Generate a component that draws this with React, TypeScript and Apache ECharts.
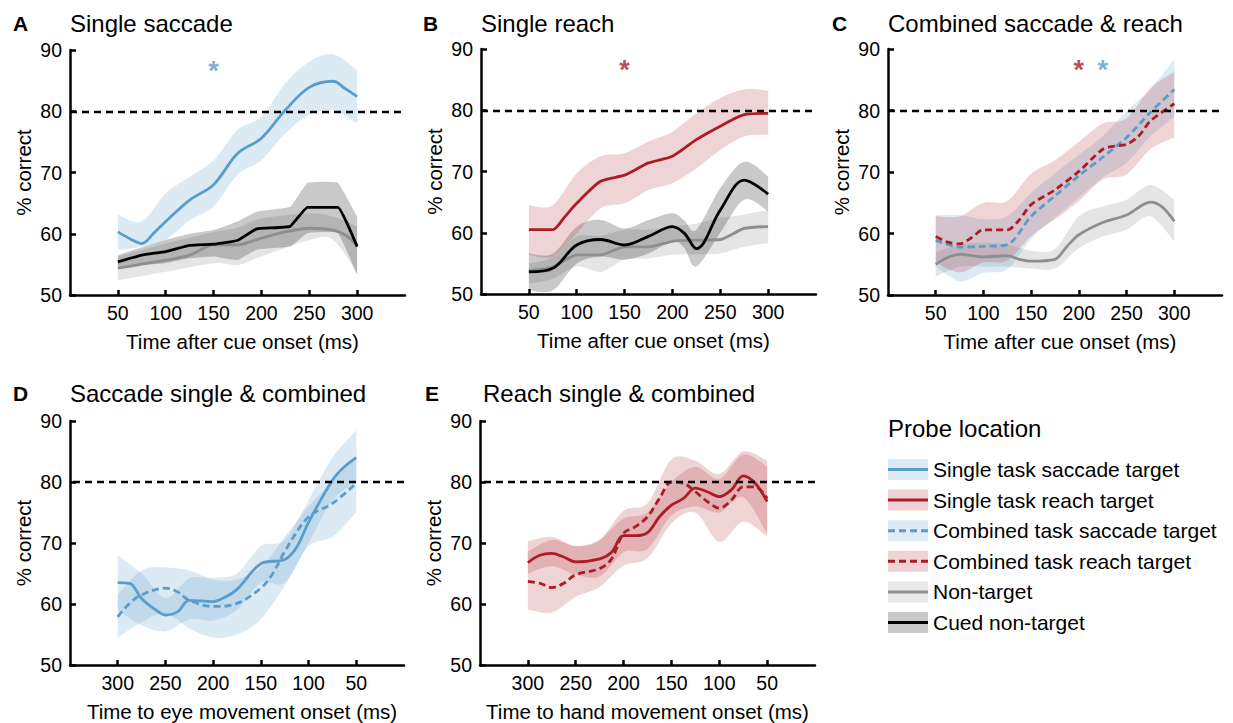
import React, { useEffect, useRef } from 'react';
import * as echarts from 'echarts';

const FONT = "'Liberation Sans', Arial, Helvetica, sans-serif";
const X_TICKS = [50, 100, 150, 200, 250, 300];

// ---------- Panel A: Single saccade ----------
const A_SACC_T = [50, 62.5, 75, 87.5, 100, 125, 150, 175, 200, 225, 250, 275, 287.5, 300];
const A_SACC = [60.3, 59.2, 58.4, 60.1, 62.0, 65.5, 68.0, 73.1, 75.6, 80.2, 83.9, 84.9, 83.7, 82.4];
const A_SACC_BT = [50, 75, 100, 125, 150, 175, 200, 225, 250, 275, 300];
const A_SACC_HI = [63.1, 62.0, 66.6, 69.3, 72.0, 77.0, 79.1, 84.6, 88.1, 89.3, 86.7];
const A_SACC_LO = [57.3, 57.9, 59.0, 62.2, 64.4, 69.6, 72.0, 76.4, 79.4, 80.2, 78.0];
const A_CUED_T = [50, 75, 100, 125, 150, 175, 195, 230, 248, 280, 300];
const A_CUED = [55.4, 56.5, 57.1, 58.1, 58.3, 58.9, 60.8, 61.2, 64.3, 64.3, 57.9];
const A_CUED_HI = [56.5, 57.8, 59.0, 60.0, 60.6, 62.0, 63.6, 64.4, 68.3, 68.3, 62.8];
const A_CUED_LO = [54.6, 54.9, 55.2, 56.0, 56.3, 55.7, 57.4, 57.9, 60.1, 60.1, 53.3];
const A_NON_T = [50, 100, 125, 150, 175, 200, 225, 250, 275, 287.5, 300];
const A_NON = [54.4, 55.7, 56.5, 58.2, 58.2, 59.3, 60.3, 60.9, 60.6, 59.8, 58.2];
const A_NON_BT = [50, 100, 150, 175, 200, 250, 275, 300];
const A_NON_HI = [56.3, 58.4, 60.3, 61.0, 62.5, 63.3, 62.8, 61.2];
const A_NON_LO = [52.4, 53.8, 55.2, 54.9, 56.3, 59.0, 59.0, 53.5];
const A_STARS = [[150, 87.5]];

// ---------- Panel B: Single reach ----------
const B_REACH_T = [50, 75, 87.5, 100, 125, 150, 175, 200, 225, 250, 275, 300];
const B_REACH = [60.5, 60.5, 62.6, 64.8, 68.4, 69.4, 71.4, 72.5, 75.2, 77.4, 79.3, 79.5];
const B_REACH_BT = [50, 75, 100, 125, 150, 175, 200, 225, 250, 275, 300];
const B_REACH_HI = [64.5, 64.5, 69.7, 72.5, 73.0, 74.9, 76.5, 79.5, 82.0, 83.4, 83.2];
const B_REACH_LO = [56.4, 56.1, 59.9, 64.0, 64.8, 67.0, 68.1, 70.5, 73.5, 75.7, 76.0];
const B_CUED_T = [50, 75, 100, 125, 150, 175, 200, 212.5, 225, 250, 275, 300];
const B_CUED = [53.6, 54.2, 58.0, 58.9, 58.0, 59.4, 61.0, 59.9, 57.4, 63.7, 68.6, 66.3];
const B_CUED_HI = [56.6, 56.6, 61.0, 62.1, 60.7, 62.1, 63.2, 62.0, 60.5, 67.3, 71.6, 69.2];
const B_CUED_LO = [50.6, 50.6, 55.0, 56.1, 55.6, 56.6, 58.6, 57.5, 54.5, 60.0, 65.4, 63.5];
const B_NON_T = [50, 75, 100, 125, 150, 175, 200, 225, 250, 275, 300];
const B_NON = [53.8, 54.4, 56.4, 56.4, 57.7, 57.7, 58.6, 58.8, 58.9, 60.7, 61.0];
const B_NON_HI = [55.0, 56.0, 59.4, 59.5, 60.5, 60.5, 61.0, 61.5, 62.4, 63.0, 63.7];
const B_NON_LO = [51.7, 52.5, 54.5, 53.6, 55.6, 55.8, 56.4, 56.5, 56.6, 57.7, 58.3];
const B_STARS = [[150, 87.5]];

// ---------- Panel C: Combined saccade & reach ----------
const C_REACH_T = [50, 62.5, 75, 87.5, 100, 125, 137.5, 150, 175, 200, 225, 237.5, 250, 262.5, 275, 300];
const C_REACH = [59.5, 58.6, 58.3, 59.3, 60.6, 60.6, 62.2, 64.7, 67.1, 70.1, 73.7, 74.2, 74.5, 75.8, 78.3, 81.1];
const C_BT = [50, 75, 100, 125, 150, 175, 200, 225, 250, 275, 300];
const C_REACH_HI = [62.8, 62.8, 65.0, 65.3, 69.7, 71.9, 74.9, 77.9, 78.7, 83.6, 86.3];
const C_REACH_LO = [55.3, 53.7, 55.3, 55.6, 59.6, 62.3, 65.3, 68.8, 69.6, 73.7, 75.6];
const C_SACC_T = [50, 75, 100, 125, 150, 175, 200, 225, 250, 275, 300];
const C_SACC = [58.9, 57.8, 57.9, 58.2, 62.8, 66.1, 69.4, 72.4, 75.6, 79.7, 83.4];
const C_SACC_HI = [63.0, 63.0, 62.3, 62.8, 66.6, 69.8, 72.8, 75.8, 79.9, 83.5, 88.3];
const C_SACC_LO = [54.7, 52.2, 53.6, 54.2, 59.1, 62.6, 65.8, 69.1, 71.5, 75.8, 79.0];
const C_NON_T = [50, 62.5, 75, 100, 125, 137.5, 150, 175, 187.5, 200, 225, 250, 275, 287.5, 300];
const C_NON = [55.0, 56.1, 56.6, 56.2, 56.4, 55.8, 55.5, 55.8, 57.9, 59.8, 61.8, 63.0, 65.1, 64.3, 62.0];
const C_NON_HI = [56.9, 58.2, 58.5, 58.2, 57.2, 57.5, 62.8, 64.4, 65.5, 67.9, 65.5];
const C_NON_LO = [53.0, 54.6, 54.6, 54.6, 54.3, 54.3, 57.6, 59.5, 60.6, 62.8, 58.7];
const C_STARS_REACH = [[200, 87.5]];
const C_STARS_SACC = [[225, 87.5]];

// ---------- Panel D: Saccade single & combined (time to eye movement onset) ----------
const D_SINGLE_T = [300, 287.5, 275, 262.5, 250, 237.5, 225, 200, 187.5, 175, 150, 125, 112.5, 100, 75, 62.5, 50];
const D_SINGLE = [63.5, 63.4, 60.9, 59.3, 58.2, 58.7, 60.6, 60.4, 61.1, 62.4, 66.6, 67.3, 69.3, 73.4, 80.3, 82.5, 84.0];
const D_COMB_T = [300, 287.5, 275, 250, 237.5, 225, 200, 175, 150, 137.5, 125, 100, 75, 50];
const D_COMB = [57.9, 60.1, 61.5, 62.6, 62.0, 60.6, 59.6, 60.1, 62.6, 65.0, 68.6, 74.3, 76.5, 79.8];
const D_BT = [300, 275, 250, 225, 200, 175, 150, 125, 100, 75, 50];
const D_SINGLE_HI = [68.0, 65.0, 61.0, 64.2, 64.3, 65.0, 69.5, 70.5, 77.0, 84.0, 88.5];
const D_SINGLE_LO = [59.0, 56.5, 55.5, 57.5, 57.3, 59.0, 63.5, 63.5, 70.0, 77.0, 80.0];
const D_COMB_HI = [61.5, 65.5, 66.0, 65.5, 64.0, 64.0, 66.0, 71.0, 76.0, 80.0, 84.5];
const D_COMB_LO = [54.5, 57.0, 58.5, 56.0, 54.5, 55.0, 57.5, 63.0, 69.5, 71.0, 75.0];

// ---------- Panel E: Reach single & combined (time to hand movement onset) ----------
const E_T = [300, 287.5, 275, 262.5, 250, 225, 212.5, 200, 187.5, 175, 162.5, 150, 137.5, 125, 112.5, 100, 87.5, 75, 62.5, 50];
const E_SINGLE = [66.8, 68.0, 68.3, 67.7, 66.9, 67.4, 68.5, 71.2, 71.2, 71.7, 74.3, 76.2, 77.3, 79.0, 78.4, 77.6, 78.7, 81.0, 79.8, 76.8];
const E_COMB = [63.7, 63.4, 62.7, 63.4, 64.8, 65.8, 67.4, 71.6, 72.7, 74.3, 77.3, 80.0, 79.8, 78.4, 76.8, 75.7, 77.0, 79.2, 79.2, 77.3];
const E_BT = [300, 275, 250, 225, 200, 175, 150, 125, 100, 75, 50];
const E_SINGLE_HI = [68.6, 70.5, 69.5, 70.5, 74.0, 75.0, 80.0, 82.5, 80.5, 84.5, 82.5];
const E_SINGLE_LO = [65.0, 66.2, 64.8, 64.5, 68.5, 69.0, 74.5, 76.0, 75.0, 77.5, 71.5];
const E_COMB_HI = [70.3, 71.0, 69.5, 70.5, 75.3, 76.5, 83.7, 83.5, 81.3, 85.0, 83.5];
const E_COMB_LO = [59.1, 58.6, 61.2, 62.8, 66.3, 67.5, 73.2, 75.0, 70.2, 73.5, 71.0];

const CHANCE_LINE = 80;

const LEGEND_TITLE = 'Probe location';
const LEGEND_LABELS = [
  'Single task saccade target',
  'Single task reach target',
  'Combined task saccade target',
  'Combined task reach target',
  'Non-target',
  'Cued non-target',
];

const PANEL_LETTERS = ['A', 'B', 'C', 'D', 'E'];
const PANEL_TITLES = ['Single saccade', 'Single reach', 'Combined saccade & reach', 'Saccade single & combined', 'Reach single & combined'];
const X_NAMES = ['Time after cue onset (ms)', 'Time after cue onset (ms)', 'Time after cue onset (ms)', 'Time to eye movement onset (ms)', 'Time to hand movement onset (ms)'];
const Y_NAME = '% correct';

// colours
const BLUE = '#5a9dc9';
const RED = '#ab1c25';
const GRAY = '#8e8e8e';
const BLACK = '#000000';
const BLUE_BAND = 'rgba(90,157,201,0.21)';
const RED_BAND = 'rgba(171,28,37,0.19)';
const GRAY_BAND = 'rgba(0,0,0,0.10)';
const CUED_BAND = 'rgba(0,0,0,0.21)';
const DASH = [7, 4];

const GRIDS = [
  { left: 70, top: 50, width: 335, height: 245 },
  { left: 481, top: 49, width: 335, height: 245 },
  { left: 888, top: 49, width: 334, height: 246 },
  { left: 70, top: 421, width: 334, height: 244 },
  { left: 480, top: 421, width: 335, height: 244 },
];
const NAME_SHIFT = [10, 10, 10, 10, 0];
const LETTER_POS = [[13, 23], [423, 23], [832, 23], [13, 393], [425, 393]];
const TITLE_POS = [[70, 23], [481, 23], [888, 23], [70, 393], [483, 393]];

function segs(pts: number[][], s: number) {
  let d = '';
  const n = pts.length;
  for (let i = 0; i < n - 1; i++) {
    const p0 = pts[Math.max(i - 1, 0)];
    const p1 = pts[i];
    const p2 = pts[i + 1];
    const p3 = pts[Math.min(i + 2, n - 1)];
    const c1x = p1[0] + (p2[0] - p0[0]) * s;
    const c1y = p1[1] + (p2[1] - p0[1]) * s;
    const c2x = p2[0] - (p3[0] - p1[0]) * s;
    const c2y = p2[1] - (p3[1] - p1[1]) * s;
    d += ` C${c1x},${c1y} ${c2x},${c2y} ${p2[0]},${p2[1]}`;
  }
  return d;
}

function band(grid: number, t: number[], lo: number[], hi: number[], color: string, s = 0.16) {
  const data = t.map((x, i) => [x, lo[i], hi[i]]);
  return {
    type: 'custom',
    xAxisIndex: grid,
    yAxisIndex: grid,
    data,
    encode: { x: 0, y: [1, 2] },
    z: 1,
    silent: true,
    renderItem: (params: any, api: any) => {
      if (params.dataIndex !== 0) return null;
      const up = data.map((d) => api.coord([d[0], d[2]]));
      const dn = data.map((d) => api.coord([d[0], d[1]])).reverse();
      const pathData = `M${up[0][0]},${up[0][1]}` + segs(up, s) + ` L${dn[0][0]},${dn[0][1]}` + segs(dn, s) + ' Z';
      return { type: 'path', shape: { pathData }, style: { fill: color, stroke: null } };
    },
  };
}

function line(grid: number, t: number[], v: number[], color: string, dashed: boolean, smooth: number | boolean, extra: any = {}) {
  return {
    type: 'line',
    xAxisIndex: grid,
    yAxisIndex: grid,
    data: t.map((x, i) => [x, v[i]]),
    symbol: 'none',
    smooth,
    silent: true,
    z: 3,
    lineStyle: { color, width: 2.8, type: dashed ? DASH : 'solid', cap: 'butt' },
    ...extra,
  };
}

function chanceLine() {
  return {
    markLine: {
      silent: true,
      symbol: 'none',
      label: { show: false },
      lineStyle: { color: '#000', width: 2.4, type: [7, 5] },
      data: [{ yAxis: CHANCE_LINE }],
    },
  };
}

function stars(grid: number, pts: number[][], color: string) {
  return {
    type: 'scatter',
    xAxisIndex: grid,
    yAxisIndex: grid,
    data: pts,
    symbol: 'circle',
    symbolSize: 0.1,
    itemStyle: { color: 'rgba(0,0,0,0)' },
    silent: true,
    z: 4,
    label: {
      show: true,
      position: 'inside',
      formatter: '*',
      color,
      fontSize: 27,
      fontWeight: 'bold',
      fontFamily: FONT,
      offset: [0, 6],
    },
  };
}

export default function App() {
  const ref = useRef<HTMLDivElement>(null);
  useEffect(() => {
    if (!ref.current) return;
    const chart = echarts.init(ref.current, undefined, { renderer: 'svg' });
    const textStyle = { color: '#000', fontFamily: FONT };

    const xAxis = GRIDS.map((_, i) => ({
      type: 'value',
      gridIndex: i,
      min: 0,
      max: 350,
      interval: 50,
      inverse: i >= 3,
      axisLine: { show: true, onZero: false, lineStyle: { color: '#000', width: 2.5 } },
      axisTick: { show: true, inside: true, length: 5, customValues: X_TICKS, lineStyle: { color: '#000', width: 2.5 } },
      axisLabel: { customValues: X_TICKS, ...textStyle, fontSize: 19.5, margin: 8 },
      splitLine: { show: false },
      name: X_NAMES[i],
      nameLocation: 'middle',
      nameGap: 36,
      nameTextStyle: { ...textStyle, fontSize: 20.5, padding: [0, 0, 0, NAME_SHIFT[i]] },
    }));
    const yAxis = GRIDS.map((_, i) => ({
      type: 'value',
      gridIndex: i,
      min: 50,
      max: 90,
      interval: 10,
      axisLine: { show: true, onZero: false, lineStyle: { color: '#000', width: 2.5 } },
      axisTick: { show: true, inside: true, length: 6, lineStyle: { color: '#000', width: 2.5 } },
      axisLabel: { ...textStyle, fontSize: 19.5, margin: 8 },
      splitLine: { show: false },
      name: Y_NAME,
      nameLocation: 'middle',
      nameGap: 36,
      nameRotate: 90,
      nameTextStyle: { ...textStyle, fontSize: 20.5 },
    }));

    const series: any[] = [
      // A
      band(0, A_NON_BT, A_NON_LO, A_NON_HI, GRAY_BAND),
      band(0, A_CUED_T, A_CUED_LO, A_CUED_HI, CUED_BAND, 0.05),
      band(0, A_SACC_BT, A_SACC_LO, A_SACC_HI, BLUE_BAND),
      line(0, A_NON_T, A_NON, GRAY, false, 0.3, chanceLine()),
      line(0, A_CUED_T, A_CUED, BLACK, false, 0.1),
      line(0, A_SACC_T, A_SACC, BLUE, false, 0.35),
      stars(0, A_STARS, BLUE),
      // B
      band(1, B_NON_T, B_NON_LO, B_NON_HI, GRAY_BAND),
      band(1, B_CUED_T, B_CUED_LO, B_CUED_HI, CUED_BAND),
      band(1, B_REACH_BT, B_REACH_LO, B_REACH_HI, RED_BAND),
      line(1, B_NON_T, B_NON, GRAY, false, 0.2, chanceLine()),
      line(1, B_CUED_T, B_CUED, BLACK, false, 0.35),
      line(1, B_REACH_T, B_REACH, RED, false, 0.25),
      stars(1, B_STARS, RED),
      // C
      band(2, C_BT, C_NON_LO, C_NON_HI, GRAY_BAND),
      band(2, C_BT, C_SACC_LO, C_SACC_HI, BLUE_BAND),
      band(2, C_BT, C_REACH_LO, C_REACH_HI, RED_BAND),
      line(2, C_NON_T, C_NON, GRAY, false, 0.3, chanceLine()),
      line(2, C_SACC_T, C_SACC, BLUE, true, 0.3),
      line(2, C_REACH_T, C_REACH, RED, true, 0.3),
      stars(2, C_STARS_REACH, RED),
      stars(2, C_STARS_SACC, BLUE),
      // D
      band(3, D_BT, D_COMB_LO, D_COMB_HI, BLUE_BAND),
      band(3, D_BT, D_SINGLE_LO, D_SINGLE_HI, BLUE_BAND),
      line(3, D_COMB_T, D_COMB, BLUE, true, 0.35, chanceLine()),
      line(3, D_SINGLE_T, D_SINGLE, BLUE, false, 0.35),
      // E
      band(4, E_BT, E_COMB_LO, E_COMB_HI, RED_BAND),
      band(4, E_BT, E_SINGLE_LO, E_SINGLE_HI, RED_BAND),
      line(4, E_T, E_COMB, RED, true, 0.35, chanceLine()),
      line(4, E_T, E_SINGLE, RED, false, 0.35),
    ];

    const graphic: any[] = [];
    PANEL_LETTERS.forEach((L, i) => {
      graphic.push({
        type: 'text', x: LETTER_POS[i][0], y: LETTER_POS[i][1],
        style: { text: L, fontFamily: FONT, fontSize: 21, fontWeight: 'bold', fill: '#000', verticalAlign: 'middle' },
      });
      graphic.push({
        type: 'text', x: TITLE_POS[i][0], y: TITLE_POS[i][1],
        style: { text: PANEL_TITLES[i], fontFamily: FONT, fontSize: 24, fill: '#000', verticalAlign: 'middle' },
      });
    });
    graphic.push({
      type: 'text', x: 888, y: 428,
      style: { text: LEGEND_TITLE, fontFamily: FONT, fontSize: 24, fill: '#000', verticalAlign: 'middle' },
    });
    const swatch = [
      { fill: '#dcebf5', stroke: BLUE, dash: null },
      { fill: '#f0d2d4', stroke: RED, dash: null },
      { fill: '#dcebf5', stroke: BLUE, dash: DASH },
      { fill: '#f0d2d4', stroke: RED, dash: DASH },
      { fill: '#e8e8e8', stroke: GRAY, dash: null },
      { fill: '#c9c9c9', stroke: BLACK, dash: null },
    ];
    LEGEND_LABELS.forEach((lab, i) => {
      const cy = 469.5 + i * 30.6;
      graphic.push({ type: 'rect', shape: { x: 888, y: cy - 10.5, width: 40, height: 21 }, style: { fill: swatch[i].fill } });
      graphic.push({
        type: 'line', shape: { x1: 888, y1: cy, x2: 928, y2: cy },
        style: { stroke: swatch[i].stroke, lineWidth: 3, lineDash: swatch[i].dash || undefined },
      });
      graphic.push({
        type: 'text', x: 933, y: cy,
        style: { text: lab, fontFamily: FONT, fontSize: 21, fill: '#000', verticalAlign: 'middle' },
      });
    });

    chart.setOption({
      animation: false,
      backgroundColor: '#ffffff',
      textStyle: { fontFamily: FONT },
      grid: GRIDS.map((g) => ({ ...g, containLabel: false })),
      xAxis,
      yAxis,
      series,
      graphic,
    });
    return () => chart.dispose();
  }, []);
  return <div ref={ref} style={{ position: 'absolute', left: 0, top: 0, width: 1233, height: 723 }} />;
}
